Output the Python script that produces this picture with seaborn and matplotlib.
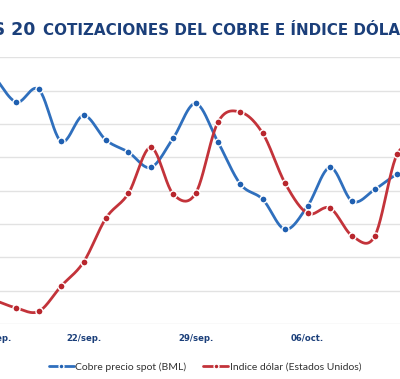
import numpy as np
import pandas as pd
import matplotlib
matplotlib.use("Agg")
import matplotlib.pyplot as plt
from matplotlib.lines import Line2D
import seaborn as sns

# ---- data ----
fechas = ["15/sep", "16/sep", "17/sep", "21/sep", "22/sep", "23/sep", "24/sep",
          "25/sep", "28/sep", "29/sep", "30/sep", "01/oct", "02/oct", "05/oct",
          "06/oct", "07/oct", "08/oct", "09/oct", "12/oct", "13/oct"]
cobre = [2.472, 2.433, 2.452, 2.374, 2.413, 2.376, 2.358, 2.335, 2.379, 2.431,
         2.373, 2.310, 2.287, 2.242, 2.277, 2.335, 2.284, 2.302, 2.325, 2.338]
dolar = [93.36, 93.24, 93.19, 93.57, 93.93, 94.59, 94.96, 95.65, 94.95, 94.96,
         96.03, 96.18, 95.86, 95.11, 94.66, 94.74, 94.32, 94.32, 95.55, 95.61]
tick_pos = [0, 4, 9, 14, 19]
tick_labels = ["15/sep.", "22/sep.", "29/sep.", "06/oct.", "13/oct."]
serie_cobre = "Cobre precio spot (BML)"
serie_dolar = "Indice dólar (Estados Unidos)"
titulo_a = "ÚLTIMAS 20"
titulo_b = "COTIZACIONES DEL COBRE E ÍNDICE DÓLAR"

BLUE = "#2f6fbd"
RED = "#c3333a"
NAVY = "#1b3f7a"

sns.set_theme(style="white")
plt.rcParams["font.family"] = ["DejaVu Sans"]


def smooth(vals, n=24):
    y = np.asarray(vals, float)
    p = np.concatenate([[2 * y[0] - y[1]], y, [2 * y[-1] - y[-2]]])
    xs, ys = [], []
    t = np.linspace(0, 1, n, endpoint=False)
    for i in range(len(y) - 1):
        p0, p1, p2, p3 = p[i], p[i + 1], p[i + 2], p[i + 3]
        yy = 0.5 * (2 * p1 + (-p0 + p2) * t + (2 * p0 - 5 * p1 + 4 * p2 - p3) * t ** 2
                    + (-p0 + 3 * p1 - 3 * p2 + p3) * t ** 3)
        xs.extend(i + t)
        ys.extend(yy)
    xs.append(len(y) - 1)
    ys.append(y[-1])
    return pd.DataFrame({"x": xs, "y": ys})


fig = plt.figure(figsize=(4.0, 3.79), dpi=100)
ax = fig.add_axes([-0.043, 0.1451, 1.12, 0.7032])
ax2 = ax.twinx()

idx = np.arange(len(fechas))
df = pd.DataFrame({"i": idx, "fecha": fechas, "cobre": cobre, "dolar": dolar})

sc = smooth(cobre)
sd = smooth(dolar)
sns.lineplot(data=sc, x="x", y="y", ax=ax, sort=False, color=BLUE, lw=2.0, zorder=2)
sns.scatterplot(data=df, x="i", y="cobre", ax=ax, s=26, color="#1f5fb0",
                edgecolor="white", linewidth=1.0, zorder=3)
sns.lineplot(data=sd, x="x", y="y", ax=ax2, sort=False, color=RED, lw=2.0, zorder=2)
sns.scatterplot(data=df, x="i", y="dolar", ax=ax2, s=26, color="#b8262d",
                edgecolor="white", linewidth=1.0, zorder=3)

ax.set_xlim(-0.5, 19.5)
ax.set_ylim(2.10, 2.50)
ax2.set_ylim(93.0, 97.0)
ax.set_yticks(np.arange(2.10, 2.5001, 0.05))
ax.set_yticklabels([])
ax2.set_yticks([])
ax.grid(axis="y", color="#e2e2e2", lw=1.0)
ax.grid(axis="x", visible=False)
for a in (ax, ax2):
    for s in a.spines.values():
        s.set_visible(False)
    a.set_xlabel("")
    a.set_ylabel("")
ax.set_xticks(tick_pos)
ax.set_xticklabels(tick_labels, fontsize=6.1, fontweight="bold", color=NAVY)
ax.tick_params(axis="x", length=0, pad=7)
ax.tick_params(axis="y", length=0)

fig.text(35 / 400, 1 - 35 / 379, titulo_a, ha="right", va="baseline",
         fontsize=12.5, fontweight="bold", color=NAVY)
fig.text(43 / 400, 1 - 35 / 379, titulo_b, ha="left", va="baseline",
         fontsize=10.9, fontweight="bold", color=NAVY)

handles = [Line2D([], [], color=BLUE, lw=2, marker="o", markersize=3.5,
                  markerfacecolor="#1f5fb0", markeredgecolor="white"),
           Line2D([], [], color=RED, lw=2, marker="o", markersize=3.5,
                  markerfacecolor="#b8262d", markeredgecolor="white")]
fig.legend(handles, [serie_cobre, serie_dolar], loc="center",
           bbox_to_anchor=(205 / 400, 1 - 367 / 379), ncol=2, frameon=False,
           prop={"family": "Lato", "size": 7.5}, labelcolor="#333333",
           handlelength=2.4, handletextpad=0.15, columnspacing=1.6)

fig.savefig("out.png", dpi=100)
